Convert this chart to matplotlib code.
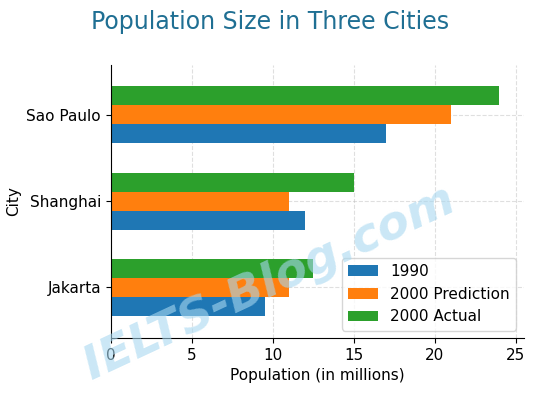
import matplotlib
matplotlib.use("Agg")
import matplotlib.pyplot as plt
import numpy as np

cities = ["Jakarta", "Shanghai", "Sao Paulo"]
pop_1990 = [9.5, 12, 17]
pop_2000_pred = [11, 11, 21]
pop_2000_actual = [12.5, 15, 24]
xticks = [0, 5, 10, 15, 20, 25]

fig, ax = plt.subplots(figsize=(5.4, 4.05), dpi=100)
y = np.arange(len(cities))
h = 0.22
ax.barh(y - h, pop_1990, h, color="#1f77b4", label="1990")
ax.barh(y, pop_2000_pred, h, color="#ff7f0e", label="2000 Prediction")
ax.barh(y + h, pop_2000_actual, h, color="#2ca02c", label="2000 Actual")
ax.set_yticks(y)
ax.set_yticklabels(cities, fontsize=11)
ax.set_xticks(xticks)
ax.tick_params(axis="x", labelsize=11)
ax.set_xlabel("Population (in millions)", fontsize=11)
ax.set_ylabel("City", fontsize=11)
ax.set_xlim(0, 25.5)
ax.set_ylim(-0.59, 2.58)
ax.grid(True, linestyle="--", alpha=0.4)
ax.set_axisbelow(True)
ax.spines["top"].set_visible(False)
ax.spines["right"].set_visible(False)
ax.legend(loc="lower right", fontsize=11)
fig.suptitle("Population Size in Three Cities", fontsize=17, color="#1f6f93", y=0.975)
fig.text(0.5, 0.3, "IELTS-Blog.com", fontsize=34, color="#a8d8f0", alpha=0.6,
         rotation=25, ha="center", va="center", fontweight="bold", style="italic")
fig.subplots_adjust(left=0.205, right=0.97, top=0.84, bottom=0.165)
fig.savefig("out.png")
